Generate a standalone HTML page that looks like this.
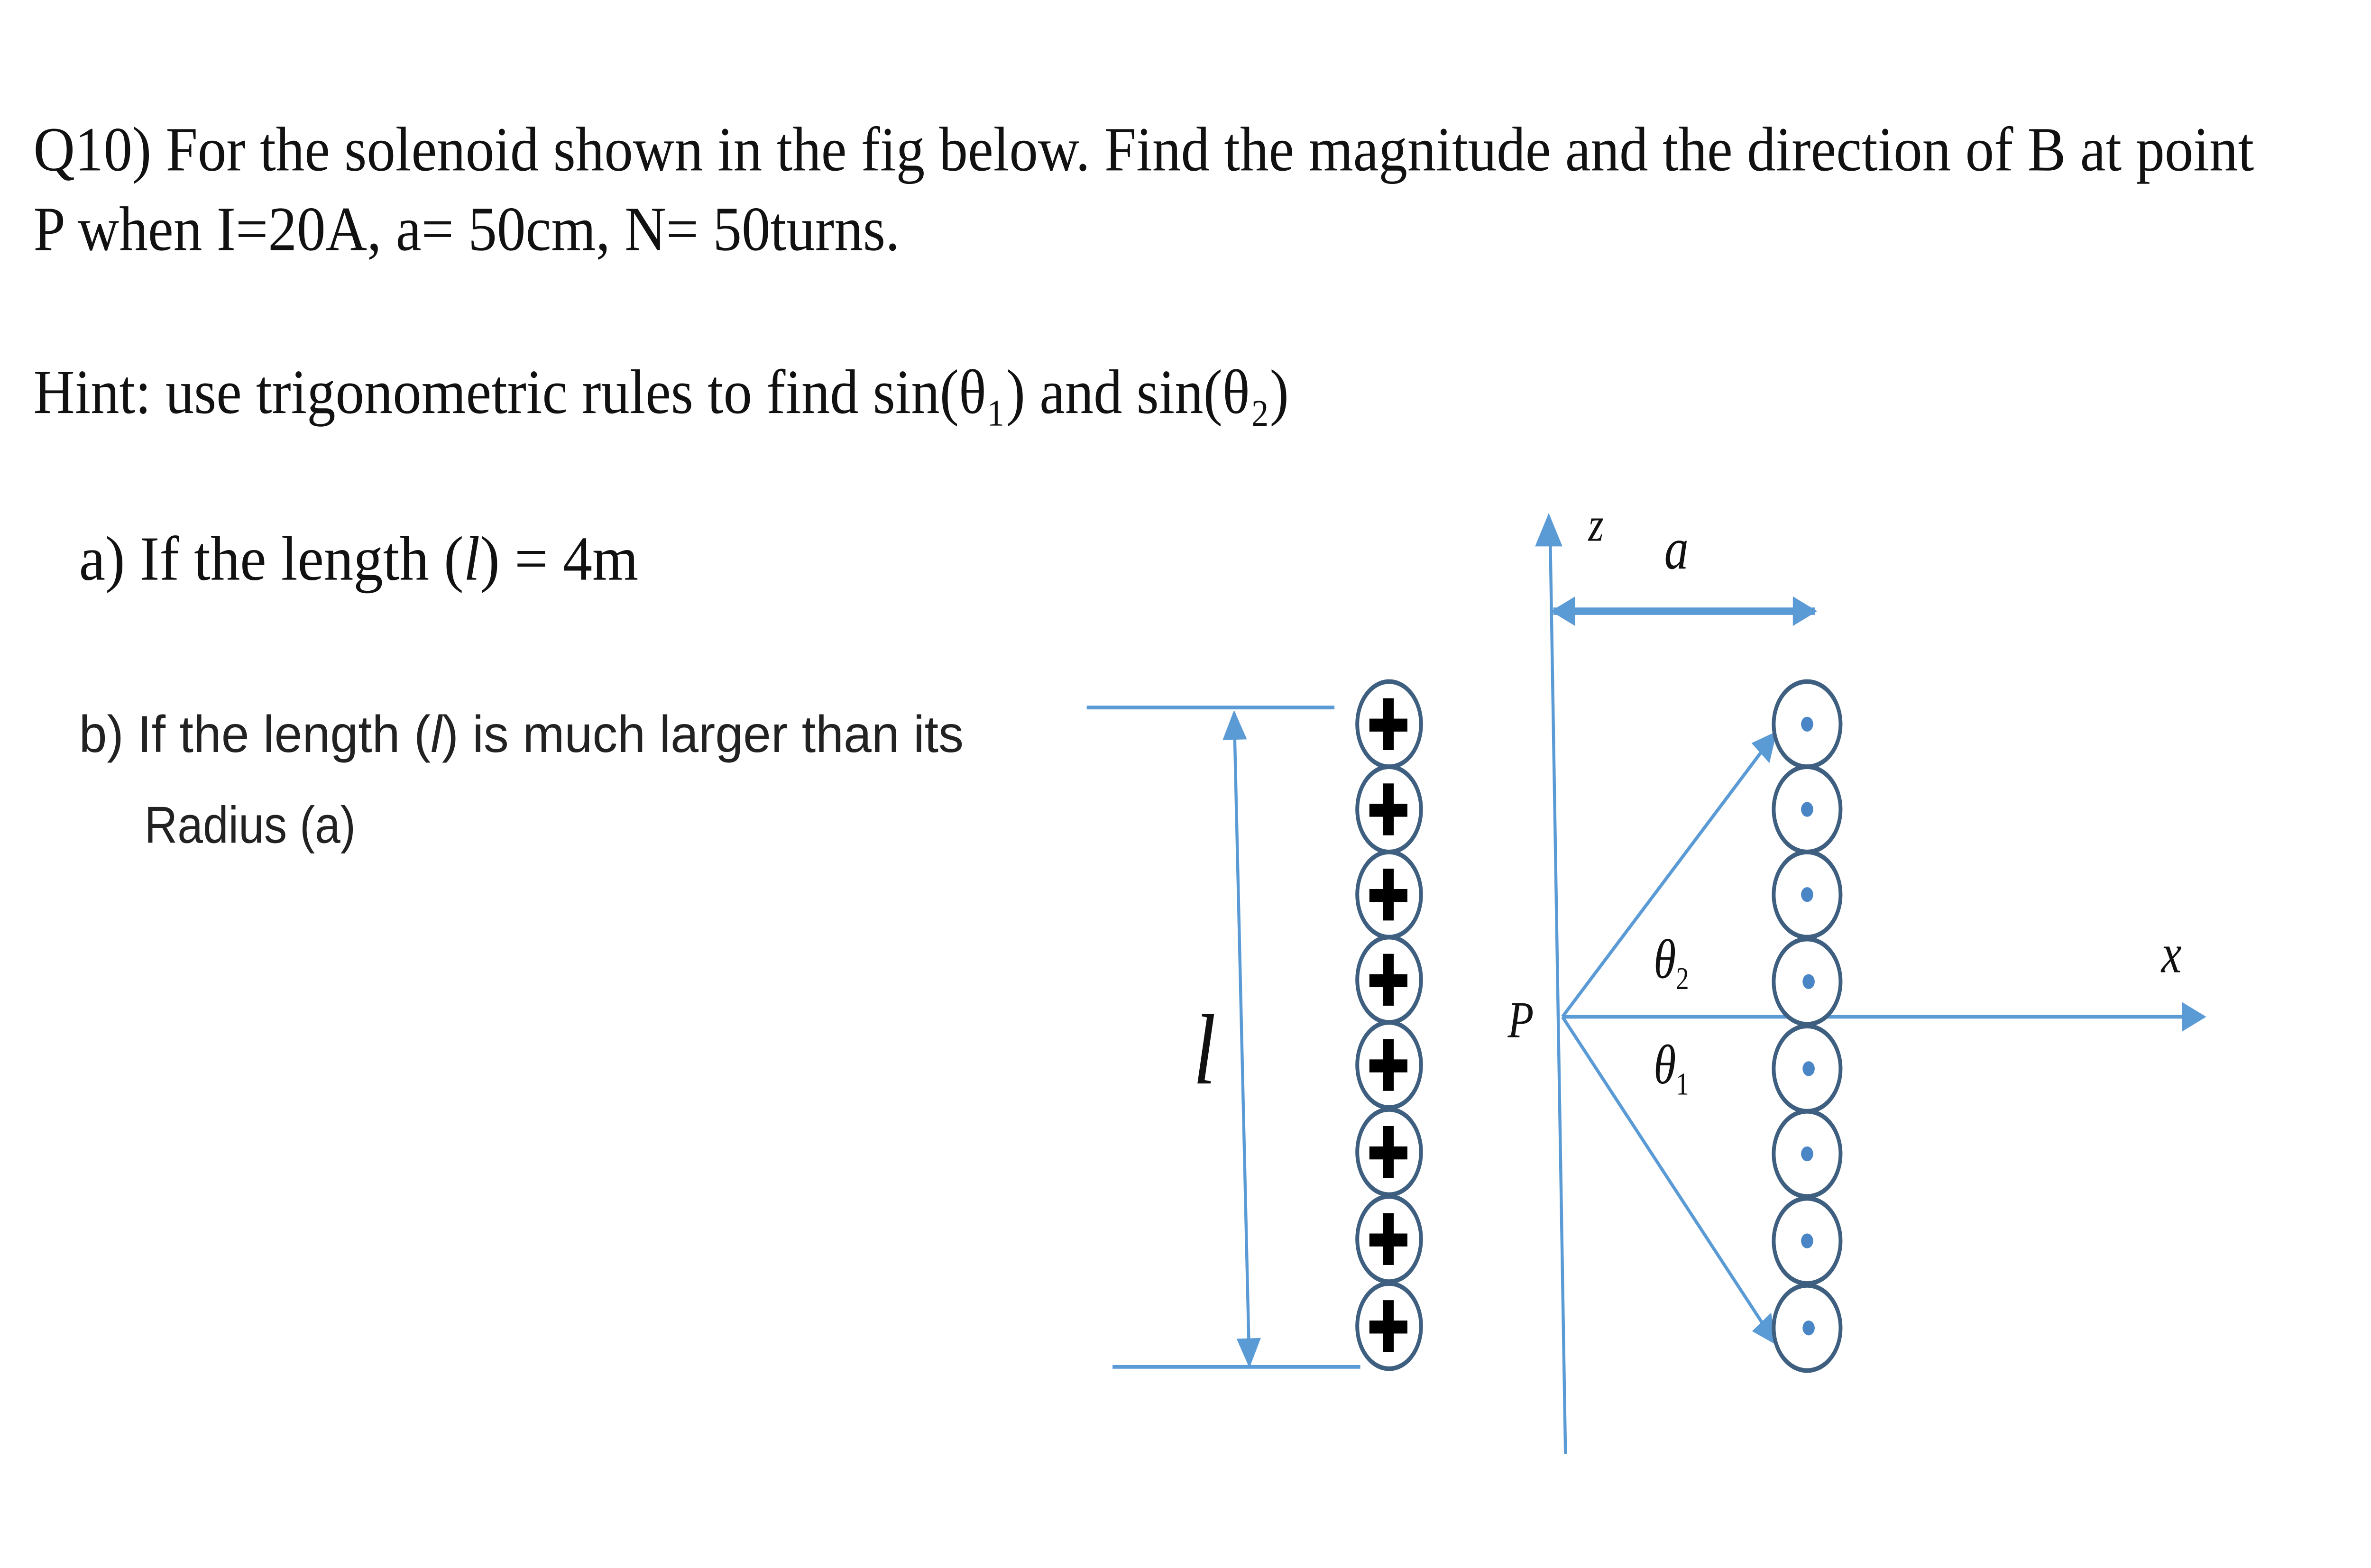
<!DOCTYPE html>
<html><head><meta charset="utf-8">
<style>
html,body{margin:0;padding:0;background:#fff;overflow:hidden;width:100%;height:100%;}
svg{display:block;width:100vw;height:100vh;}
.s{font-family:"Liberation Serif",serif;fill:#111;}
.c{font-family:"Liberation Sans",sans-serif;fill:#222;}
</style></head>
<body>
<svg viewBox="0 0 1560 846.6" preserveAspectRatio="none" xmlns="http://www.w3.org/2000/svg">
<defs>
<marker id="ah2" viewBox="0 0 10 10" refX="9" refY="5" markerWidth="18" markerHeight="16" orient="auto-start-reverse" markerUnits="userSpaceOnUse">
<path d="M0,0 L10,5 L0,10 z" fill="#5b9bd5"/></marker>
</defs>
<text class="s" x="22" y="92" font-size="34" textLength="1461" lengthAdjust="spacingAndGlyphs">Q10) For the solenoid shown in the fig below. Find the magnitude and the direction of B at point</text>
<text class="s" x="22" y="135" font-size="34" textLength="570" lengthAdjust="spacingAndGlyphs">P when I=20A, a= 50cm, N= 50turns.</text>
<text class="s" x="22" y="223" font-size="34" textLength="826" lengthAdjust="spacingAndGlyphs">Hint: use trigonometric rules to find sin(θ₁) and sin(θ₂)</text>
<text class="s" x="52" y="313" font-size="34" textLength="368" lengthAdjust="spacingAndGlyphs">a) If the length (<tspan font-style="italic">l</tspan>) = 4m</text>
<text class="c" x="52" y="406" font-size="28" textLength="582" lengthAdjust="spacingAndGlyphs">b) If the length (<tspan font-style="italic">l</tspan>) is much larger than its</text>
<text class="c" x="95" y="455" font-size="28" textLength="139" lengthAdjust="spacingAndGlyphs">Radius (a)</text>

<g stroke="#5b9bd5" fill="none" stroke-width="2">
<line x1="1020" y1="292" x2="1030" y2="785" />
<line x1="715" y1="382" x2="878" y2="382"/>
<line x1="732" y1="738" x2="895" y2="738"/>
<line x1="812" y1="385" x2="822" y2="737" marker-start="url(#ah2)" marker-end="url(#ah2)"/>
<line x1="1022" y1="330" x2="1194" y2="330" stroke-width="4" marker-start="url(#ah2)" marker-end="url(#ah2)"/>
<line x1="1028" y1="549" x2="1450" y2="549" marker-end="url(#ah2)"/>
<line x1="1028" y1="549" x2="1168" y2="396" marker-end="url(#ah2)"/>
<line x1="1028" y1="549" x2="1168" y2="725" marker-end="url(#ah2)"/>
</g>
<path d="M1019,277 L1028,295 L1010,295 z" fill="#5b9bd5"/>

<g stroke="#3e5f80" stroke-width="2.5" fill="#fff">
<ellipse cx="914" cy="391" rx="21" ry="23"/><ellipse cx="914" cy="437" rx="21" ry="23"/>
<ellipse cx="914" cy="483" rx="21" ry="23"/><ellipse cx="914" cy="529" rx="21" ry="23"/>
<ellipse cx="914" cy="575" rx="21" ry="23"/><ellipse cx="914" cy="622" rx="21" ry="23"/>
<ellipse cx="914" cy="669" rx="21" ry="23"/><ellipse cx="914" cy="716" rx="21" ry="23"/>
<ellipse cx="1189" cy="391" rx="22" ry="23"/><ellipse cx="1189" cy="437" rx="22" ry="23"/>
<ellipse cx="1189" cy="483" rx="22" ry="23"/><ellipse cx="1189" cy="530" rx="22" ry="23"/>
<ellipse cx="1189" cy="577" rx="22" ry="23"/><ellipse cx="1189" cy="623" rx="22" ry="23"/>
<ellipse cx="1189" cy="670" rx="22" ry="23"/><ellipse cx="1189" cy="717" rx="22" ry="23"/>
</g>
<g fill="#4a86c5">
<circle cx="1189" cy="391" r="4"/><circle cx="1189" cy="437" r="4"/><circle cx="1189" cy="483" r="4"/><circle cx="1190" cy="530" r="4"/>
<circle cx="1190" cy="577" r="4"/><circle cx="1189" cy="623" r="4"/><circle cx="1189" cy="670" r="4"/><circle cx="1190" cy="717" r="4"/>
</g>
<g fill="#000">
<g id="pl"><rect x="910" y="377" width="7" height="28"/><rect x="901" y="388" width="25" height="7"/></g>
<use href="#pl" y="46"/><use href="#pl" y="92"/><use href="#pl" y="138"/>
<use href="#pl" y="184"/><use href="#pl" y="231"/><use href="#pl" y="278"/><use href="#pl" y="325"/>
</g>

<g class="s" font-style="italic">
<text x="1045" y="292" font-size="26">z</text>
<text x="1095" y="307" font-size="32">a</text>
<text x="785" y="585" font-size="54">l</text>
<text x="992" y="560" font-size="28">P</text>
<text x="1422" y="525" font-size="30">x</text>
<text x="1088" y="528" font-size="30">θ<tspan font-size="17" dy="6" font-style="normal">2</tspan></text>
<text x="1088" y="585" font-size="30">θ<tspan font-size="17" dy="6" font-style="normal">1</tspan></text>
</g>
</svg>
</body></html>
